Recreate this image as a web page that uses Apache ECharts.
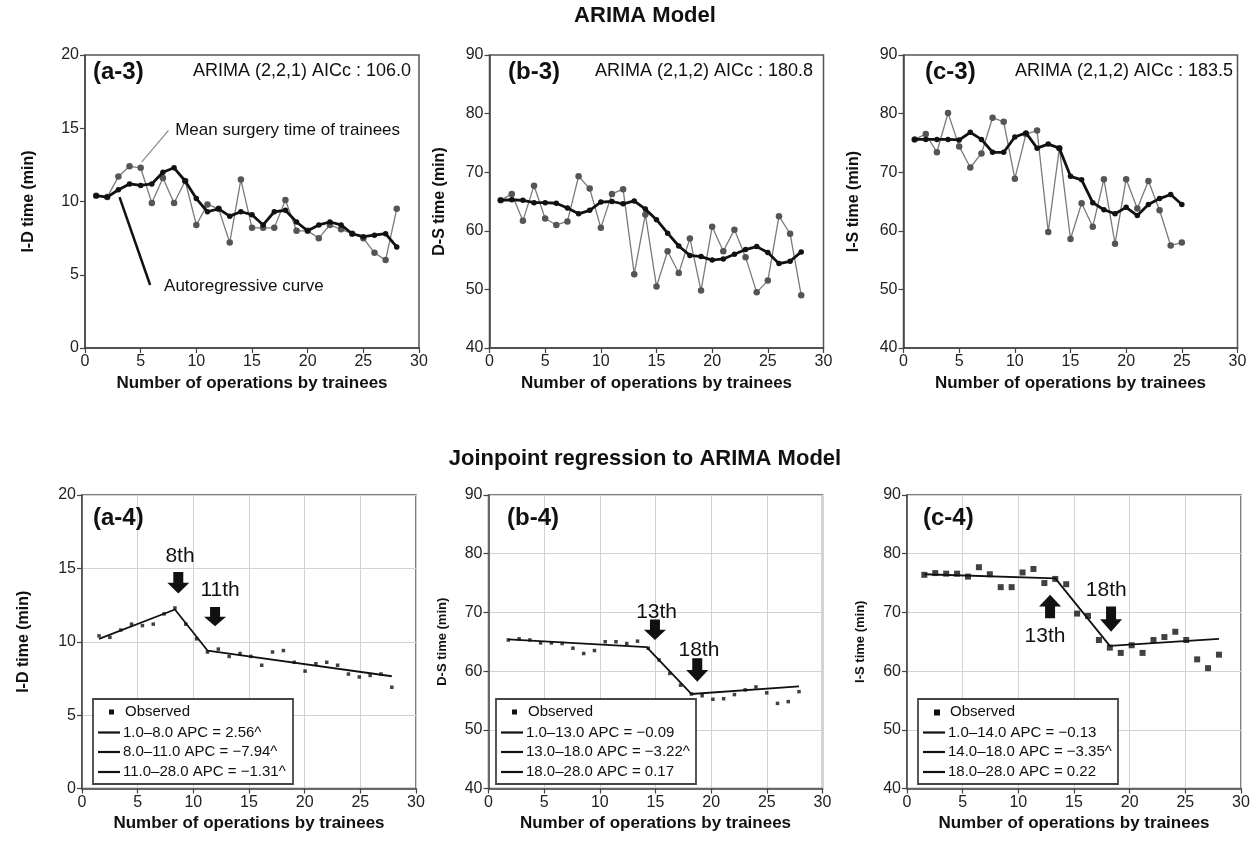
<!DOCTYPE html>
<html><head><meta charset="utf-8">
<script src="https://cdn.jsdelivr.net/npm/echarts@6/dist/echarts.min.js"></script>
<style>html,body{margin:0;padding:0;background:#fff}#c{width:1260px;height:853px}</style>
</head><body><div id="c"></div>
<script>
// ---------- DATA ----------
const xTicks = [0, 5, 10, 15, 20, 25, 30];
// ARIMA panels (operation number = index + 1)
const aObs   = [10.4,10.3,11.7,12.4,12.3,9.9,11.6,9.9,11.4,8.4,9.8,9.5,7.2,11.5,8.2,8.2,8.2,10.1,8.0,8.0,7.5,8.4,8.1,7.8,7.5,6.5,6.0,9.5];
const aArima = [10.4,10.3,10.8,11.2,11.1,11.2,12.0,12.3,11.4,10.2,9.3,9.5,9.0,9.3,9.1,8.4,9.3,9.4,8.6,8.0,8.4,8.6,8.4,7.8,7.6,7.7,7.8,6.9];
const bObs   = [65.2,66.3,61.7,67.7,62.1,61.0,61.6,69.3,67.2,60.5,66.3,67.1,52.6,62.8,50.5,56.5,52.8,58.7,49.8,60.7,56.5,60.2,55.5,49.5,51.5,62.5,59.5,49.0];
const bArima = [65.2,65.3,65.2,64.8,64.8,64.7,63.9,62.9,63.5,64.9,65.0,64.6,65.1,63.7,61.9,59.6,57.4,55.8,55.6,55.0,55.2,56.0,56.8,57.3,56.3,54.4,54.8,56.4];
const cObs   = [75.6,76.5,73.4,80.1,74.4,70.8,73.2,79.3,78.6,68.9,76.5,77.1,59.8,74.1,58.6,64.7,60.7,68.8,57.8,68.8,63.8,68.5,63.5,57.5,58.0];
const cArima = [75.6,75.6,75.6,75.6,75.5,76.8,75.6,73.4,73.4,76.0,76.7,74.1,74.8,74.1,69.3,68.7,64.8,63.6,62.9,64.0,62.6,64.5,65.5,66.2,64.5];
// Joinpoint panels: observed (ARIMA-fitted) values, operation number = index + 1
const aJP = [10.4,10.3,10.8,11.2,11.1,11.2,11.9,12.3,11.2,10.2,9.3,9.5,9.0,9.2,9.0,8.4,9.3,9.4,8.6,8.0,8.5,8.6,8.4,7.8,7.6,7.7,7.8,6.9];
const bJP = [65.3,65.5,65.3,64.8,64.8,64.7,63.9,63.0,63.5,65.0,65.0,64.7,65.1,63.9,61.9,59.6,57.6,56.1,55.8,55.2,55.3,56.0,56.8,57.3,56.3,54.5,54.8,56.5];
const cJP = [76.4,76.7,76.6,76.6,76.1,77.7,76.5,74.3,74.3,76.8,77.4,75.0,75.7,74.8,69.8,69.4,65.3,64.0,63.1,64.4,63.1,65.3,65.8,66.7,65.3,62.0,60.5,62.8];
// Joinpoint fitted segments: [operation, value]
const aSeg = [[1,10.2],[8,12.2],[11,9.4],[28,7.65]];
const bSeg = [[1,65.4],[13.85,64.1],[18,56.1],[28,57.4]];
const cSeg = [[1,76.5],[13,75.8],[18,64.3],[28,65.5]];
// Texts
const topTitle = 'ARIMA Model';
const botTitle = 'Joinpoint regression to ARIMA Model';
const xName = 'Number of operations by trainees';
const yNames = ['I-D time (min)', 'D-S time (min)', 'I-S time (min)'];
const topTags = ['(a-3)', '(b-3)', '(c-3)'];
const botTags = ['(a-4)', '(b-4)', '(c-4)'];
const models = ['ARIMA (2,2,1) AICc : 106.0', 'ARIMA (2,1,2) AICc : 180.8', 'ARIMA (2,1,2) AICc : 183.5'];
const legendRows = [
  ['Observed', '1.0\u20138.0 APC = 2.56^', '8.0\u201311.0 APC = \u22127.94^', '11.0\u201328.0 APC = \u22121.31^'],
  ['Observed', '1.0\u201313.0 APC = \u22120.09', '13.0\u201318.0 APC = \u22123.22^', '18.0\u201328.0 APC = 0.17'],
  ['Observed', '1.0\u201314.0 APC = \u22120.13', '14.0\u201318.0 APC = \u22123.35^', '18.0\u201328.0 APC = 0.22']
];

// ---------- LAYOUT ----------
const FONT = "'Liberation Sans', Arial, sans-serif";
const topGrids = [
  {left: 85, top: 55, width: 334, height: 293},
  {left: 489.5, top: 55, width: 334, height: 293},
  {left: 903.5, top: 55, width: 334, height: 293}
];
const botGrids = [
  {left: 82, top: 495, width: 334, height: 293.5},
  {left: 488.5, top: 495, width: 334, height: 293.5},
  {left: 907, top: 495, width: 334, height: 293.5}
];
const yRanges = [[0,20,5],[40,90,10],[40,90,10]];
const hiddenX = [[-0.571, 30.23], [-0.84, 30.18], [-0.59, 30.02]];
const yGapTop = [48, 42, 42];
const yGapBot = [50, 40, 40];

const grids = [], xAxes = [], yAxes = [], series = [];

function visX(gi, split, gap) {
  return {
    type: 'value', gridIndex: gi, min: 0, max: 30, interval: 5,
    axisLine: {show: true, lineStyle: {color: '#444', width: 1.5}},
    axisTick: {show: true, length: 5, lineStyle: {color: '#444', width: 1.2}},
    axisLabel: {fontSize: 16, color: '#222', fontFamily: FONT, margin: 6},
    splitLine: {show: split, lineStyle: {color: '#d2d2d2', width: 1}},
    name: xName, nameLocation: 'middle', nameGap: gap,
    nameTextStyle: {fontSize: 17, fontWeight: 'bold', color: '#111', fontFamily: FONT}
  };
}
function visY(gi, r, split, name, gap, nameSize) {
  return {
    type: 'value', gridIndex: gi, min: r[0], max: r[1], interval: r[2],
    axisLine: {show: true, lineStyle: {color: '#444', width: 1.5}},
    axisTick: {show: true, length: 5, lineStyle: {color: '#444', width: 1.2}},
    axisLabel: {fontSize: 16, color: '#222', fontFamily: FONT, margin: 6},
    splitLine: {show: split, lineStyle: {color: '#d2d2d2', width: 1}},
    name: name, nameLocation: 'middle', nameGap: gap,
    nameTextStyle: {fontSize: nameSize, fontWeight: 'bold', color: '#111', fontFamily: FONT}
  };
}

const topObs = [aObs, bObs, cObs];
const topAr = [aArima, bArima, cArima];
const botJP = [aJP, bJP, cJP];
const botSeg = [aSeg, bSeg, cSeg];

for (let i = 0; i < 3; i++) grids.push(Object.assign({show: true, borderColor: '#555', borderWidth: 1.5, backgroundColor: 'transparent'}, topGrids[i]));
for (let i = 0; i < 3; i++) grids.push(Object.assign({show: true, borderColor: '#555', borderWidth: 1.5, backgroundColor: 'transparent'}, botGrids[i]));
for (let i = 0; i < 3; i++) xAxes.push(visX(i, false, 27));
for (let i = 0; i < 3; i++) xAxes.push(visX(3 + i, true, 26));
for (let i = 0; i < 3; i++) xAxes.push({type: 'value', gridIndex: 3 + i, show: false, min: hiddenX[i][0], max: hiddenX[i][1], splitLine: {show: false}});
for (let i = 0; i < 3; i++) yAxes.push(visY(i, yRanges[i], false, yNames[i], yGapTop[i], 16));
for (let i = 0; i < 3; i++) yAxes.push(visY(3 + i, yRanges[i], true, yNames[i], yGapBot[i], i === 0 ? 16 : 13));

for (let i = 0; i < 3; i++) {
  series.push({
    type: 'line', xAxisIndex: i, yAxisIndex: i,
    data: topObs[i].map((v, k) => [k + 1, v]),
    symbol: 'circle', symbolSize: 6.5,
    lineStyle: {color: '#7a7a7a', width: 1.3},
    itemStyle: {color: '#555'}, z: 2
  });
  series.push({
    type: 'line', xAxisIndex: i, yAxisIndex: i,
    data: topAr[i].map((v, k) => [k + 1, v]),
    symbol: 'circle', symbolSize: 5.5,
    lineStyle: {color: '#111', width: 2.8},
    itemStyle: {color: '#111'}, z: 3
  });
}
for (let i = 0; i < 3; i++) {
  series.push({
    type: 'line', xAxisIndex: 6 + i, yAxisIndex: 3 + i,
    data: botSeg[i], symbol: 'none',
    lineStyle: {color: '#111', width: 1.8}, z: 3
  });
  series.push({
    type: 'scatter', xAxisIndex: 6 + i, yAxisIndex: 3 + i,
    data: botJP[i].map((v, k) => [k + 1, v]),
    symbol: 'rect', symbolSize: i === 2 ? 6 : 3.5,
    itemStyle: {color: '#111'}, z: 4
  });
}

const chart = echarts.init(document.getElementById('c'));
chart.setOption({
  animation: false,
  backgroundColor: '#fff',
  textStyle: {fontFamily: FONT},
  grid: grids, xAxis: xAxes, yAxis: yAxes, series: series
});

// ---------- ANNOTATIONS ----------
function px(xi, yi, p) { return chart.convertToPixel({xAxisIndex: xi, yAxisIndex: yi}, p); }
const G = [];
function txt(x, y, s, size, weight, align, valign) {
  G.push({type: 'text', x: x, y: y, z: 100, style: {text: s, fontSize: size, fontWeight: weight || 'normal', fontFamily: FONT, fill: '#111', align: align || 'left', verticalAlign: valign || 'middle'}});
}
function seg(p1, p2, color, w) {
  G.push({type: 'line', z: 50, shape: {x1: p1[0], y1: p1[1], x2: p2[0], y2: p2[1]}, style: {stroke: color, lineWidth: w}});
}
function arrow(cx, yFrom, yTo) {
  const dir = yTo > yFrom ? 1 : -1;
  const len = Math.abs(yTo - yFrom);
  const headL = len * 0.5, sw = 5, hw = 11;
  const yh = yTo - dir * headL;
  G.push({type: 'polygon', z: 60, shape: {points: [
    [cx - sw, yFrom], [cx + sw, yFrom], [cx + sw, yh], [cx + hw, yh], [cx, yTo], [cx - hw, yh], [cx - sw, yh]
  ]}, style: {fill: '#111'}});
}

txt(645, 16, topTitle, 22, 'bold', 'center');
txt(645, 459, botTitle, 22, 'bold', 'center');

const tagX = [[93, 508, 925], [93, 507, 923]];
for (let i = 0; i < 3; i++) {
  txt(tagX[0][i], 72, topTags[i], 24, 'bold', 'left');
  txt(tagX[1][i], 518, botTags[i], 24, 'bold', 'left');
}
const modelX = [193, 595, 1015];
for (let i = 0; i < 3; i++) txt(modelX[i], 71, models[i], 18, 'normal', 'left');

// a-3 callouts
seg(px(0, 0, [5.1, 12.7]), px(0, 0, [7.5, 14.85]), '#888', 1.2);
let p = px(0, 0, [8.1, 14.85]); txt(p[0], p[1], 'Mean surgery time of trainees', 17);
seg(px(0, 0, [3.1, 10.3]), px(0, 0, [5.85, 4.3]), '#111', 2.5);
p = px(0, 0, [7.1, 4.2]); txt(p[0], p[1], 'Autoregressive curve', 17);

// joinpoint arrows and labels (visible axis coords)
function jpLabel(gi, x, y, s) { const q = px(3 + gi, 3 + gi, [x, y]); txt(q[0], q[1], s, 21, 'normal', 'center'); }
function jpArrow(gi, x, yFrom, yTo) {
  const a = px(3 + gi, 3 + gi, [x, yFrom]), b = px(3 + gi, 3 + gi, [x, yTo]);
  arrow(a[0], a[1], b[1]);
}
jpLabel(0, 8.8, 15.8, '8th');   jpArrow(0, 8.65, 14.75, 13.28);
jpLabel(0, 12.4, 13.5, '11th'); jpArrow(0, 11.95, 12.37, 11.05);
jpLabel(1, 15.1, 70.1, '13th'); jpArrow(1, 14.95, 68.8, 65.3);
jpLabel(1, 18.9, 63.6, '18th'); jpArrow(1, 18.75, 62.2, 58.2);
jpLabel(2, 17.9, 73.8, '18th'); jpArrow(2, 18.33, 71.0, 66.7);
jpLabel(2, 12.4, 65.9, '13th'); jpArrow(2, 12.85, 69.0, 73.0);

// legend boxes
const boxL = [93, 496, 918];
for (let i = 0; i < 3; i++) {
  const L = boxL[i], T = 699, W = 200, H = 85;
  G.push({type: 'rect', z: 90, shape: {x: L, y: T, width: W, height: H}, style: {fill: '#fff', stroke: '#444', lineWidth: 1.8}});
  const rows = legendRows[i];
  const ys = [T + 13, T + 33.5, T + 53, T + 73];
  G.push({type: 'rect', z: 95, shape: {x: L + 16, y: ys[0] - 2.5, width: i === 2 ? 6 : 5, height: i === 2 ? 6 : 5}, style: {fill: '#111'}});
  txt(L + 32, ys[0], rows[0], 15);
  for (let r = 1; r < 4; r++) {
    seg([L + 5, ys[r]], [L + 27, ys[r]], '#111', 2.2);
    G[G.length - 1].z = 95;
    txt(L + 30, ys[r], rows[r], 15);
  }
}
chart.setOption({graphic: G});
</script></body></html>
